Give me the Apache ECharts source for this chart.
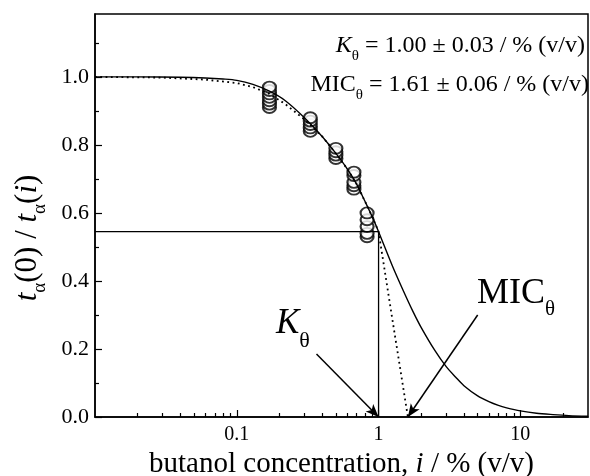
<!DOCTYPE html>
<html>
<head>
<meta charset="utf-8">
<script src="https://cdn.jsdelivr.net/npm/echarts@6/dist/echarts.min.js"></script>
<style>
  html, body { margin: 0; padding: 0; background: #fff; }
  #chart { width: 590px; height: 476px; }
</style>
</head>
<body>
<div id="chart"></div>
<script>
// axis ticks
const xMajorTicks = [0.1, 1, 10];
const xMinorTicks = [0.02, 0.03, 0.04, 0.05, 0.06, 0.07, 0.08, 0.09,
  0.2, 0.3, 0.4, 0.5, 0.6, 0.7, 0.8, 0.9, 2, 3, 4, 5, 6, 7, 8, 9, 20];
const yMajorTicks = [0, 0.2, 0.4, 0.6, 0.8, 1.0];
const yMinorTicks = [0.1, 0.3, 0.5, 0.7, 0.9, 1.1];

// measured points, butanol % (v/v) vs t(0)/t(i)
const conc = [0.17, 0.33, 0.5, 0.67, 0.83];
const ratios = [
  [0.91, 0.92, 0.93, 0.94, 0.95, 0.96, 0.97],
  [0.84, 0.85, 0.86, 0.87, 0.88],
  [0.76, 0.77, 0.78, 0.79],
  [0.67, 0.68, 0.69, 0.71, 0.72],
  [0.53, 0.54, 0.56, 0.58, 0.60]
];

// fitted curve (solid)
const fitX = [0.01, 0.02, 0.04, 0.06, 0.08, 0.1, 0.13, 0.17, 0.22, 0.3, 0.4, 0.5, 0.6, 0.7, 0.8, 0.9, 1.0,
  1.25, 1.5, 1.75, 2, 2.5, 3, 3.5, 4, 5, 6, 7, 8, 10, 13, 17, 22, 30];
const fitY = [1.0, 1.0, 0.999, 0.997, 0.994, 0.99, 0.978, 0.958, 0.93, 0.88, 0.825, 0.775, 0.73, 0.685, 0.635, 0.59, 0.545,
  0.445, 0.37, 0.31, 0.263, 0.195, 0.148, 0.117, 0.092, 0.062, 0.045, 0.034, 0.027, 0.018, 0.011, 0.007, 0.004, 0.002];

// second fit (dotted)
const fit2X = [0.01, 0.03, 0.06, 0.1, 0.13, 0.17, 0.22, 0.3, 0.4, 0.5, 0.6, 0.7, 0.8, 0.9, 1.0, 1.27, 1.61];
const fit2Y = [1.0, 0.998, 0.992, 0.982, 0.97, 0.95, 0.92, 0.875, 0.825, 0.775, 0.73, 0.685, 0.635, 0.59, 0.545, 0.27, 0.0];

// K theta guide lines
const kBoxX = [0.01, 1, 1];
const kBoxY = [0.545, 0.545, 0];

// arrows: [tailX, tailY, headX, headY]
const kArrow = [0.365, 0.185, 1.0, 0.0];
const micArrow = [5.0, 0.30, 1.61, 0.0];

const pts = [];
conc.forEach((c, i) => ratios[i].forEach(r => pts.push([c, r])));
const zip = (a, b) => a.map((v, i) => [v, b[i]]);

const font = '"Liberation Serif", "Times New Roman", serif';
const sub = { fontFamily: font, fontSize: 15, fill: '#000', lineHeight: 15, padding: [22, 0, 0, 0] };

var myChart = echarts.init(document.getElementById('chart'));
var option = {
  animation: false,
  grid: { left: 95, right: 2, top: 14, bottom: 59, outerBoundsMode: 'none',
    show: true, borderColor: '#000', borderWidth: 1.5 },
  xAxis: [
    {
      type: 'log', min: 0.01, max: 30, logBase: 10,
      name: '{n|butanol concentration, }{i|i}{n| / % (v/v)}',
      nameLocation: 'middle', nameGap: 24,
      nameTextStyle: {
        rich: {
          n: { fontFamily: font, fontSize: 29, color: '#000' },
          i: { fontFamily: font, fontSize: 29, fontStyle: 'italic', color: '#000' }
        }
      },
      axisLine: { lineStyle: { color: '#000', width: 1.5 } },
      axisTick: { inside: true, length: 7, customValues: xMajorTicks, lineStyle: { color: '#000', width: 1.2 } },
      axisLabel: { customValues: xMajorTicks, margin: 8, color: '#000', fontFamily: font, fontSize: 20,
        formatter: v => String(v) },
      splitLine: { show: false }
    },
    {
      type: 'log', min: 0.01, max: 30, logBase: 10, position: 'bottom',
      axisLine: { show: false },
      axisTick: { inside: true, length: 4, customValues: xMinorTicks, lineStyle: { color: '#000', width: 1.2 } },
      axisLabel: { show: false },
      splitLine: { show: false }
    }
  ],
  yAxis: [
    {
      type: 'value', min: 0, max: 1.185,
      axisLine: { lineStyle: { color: '#000', width: 1.5 } },
      axisTick: { inside: true, length: 7, customValues: yMajorTicks, lineStyle: { color: '#000', width: 1.2 } },
      axisLabel: { customValues: yMajorTicks, margin: 6, color: '#000', fontFamily: font, fontSize: 22,
        formatter: v => v.toFixed(1) },
      splitLine: { show: false }
    },
    {
      type: 'value', min: 0, max: 1.185, position: 'left',
      axisLine: { show: false },
      axisTick: { inside: true, length: 4, customValues: yMinorTicks, lineStyle: { color: '#000', width: 1.2 } },
      axisLabel: { show: false },
      splitLine: { show: false }
    }
  ],
  series: [
    {
      type: 'line', data: zip(kBoxX, kBoxY), symbol: 'none',
      lineStyle: { color: '#000', width: 1.3 },
      markLine: {
        silent: true, symbol: ['none', 'arrow'], symbolSize: [8, 13],
        label: { show: false },
        lineStyle: { color: '#000', width: 1.5, type: 'solid' },
        data: [
          [{ coord: [kArrow[0], kArrow[1]] }, { coord: [kArrow[2], kArrow[3]] }],
          [{ coord: [micArrow[0], micArrow[1]] }, { coord: [micArrow[2], micArrow[3]] }]
        ]
      }
    },
    {
      type: 'line', data: zip(fit2X, fit2Y), symbol: 'none',
      lineStyle: { color: '#000', width: 1.8, type: [1.8, 3.5] }
    },
    {
      type: 'line', data: zip(fitX, fitY), symbol: 'none', smooth: 0.3,
      lineStyle: { color: '#000', width: 1.4 }
    },
    {
      type: 'scatter', data: pts, symbol: 'emptyCircle', symbolSize: [13, 11],
      itemStyle: { color: '#000', borderColor: '#000', borderWidth: 2.5 }
    }
  ],
  graphic: [
    {
      type: 'text', x: 28, y: 238, rotation: Math.PI / 2,
      style: {
        text: '{t|t}{s|α}{n|(0) / }{t|t}{s|α}{n|(}{t|i}{n|)}',
        align: 'center', verticalAlign: 'middle',
        rich: {
          n: { fontFamily: font, fontSize: 31, fill: '#000', lineHeight: 34 },
          t: { fontFamily: font, fontSize: 31, fontStyle: 'italic', fill: '#000', lineHeight: 34 },
          s: { fontFamily: font, fontSize: 19, fill: '#000', lineHeight: 19, padding: [24, 0, 0, 0] }
        }
      }
    },
    {
      type: 'text', right: 5, top: 27,
      style: {
        text: '{k|K}{s|θ}{n| = 1.00 ± 0.03 / % (v/v)}',
        rich: {
          k: { fontFamily: font, fontSize: 24, fontStyle: 'italic', fill: '#000', lineHeight: 28 },
          n: { fontFamily: font, fontSize: 24, fill: '#000', lineHeight: 28 },
          s: sub
        }
      }
    },
    {
      type: 'text', right: 1, top: 66,
      style: {
        text: '{n|MIC}{s|θ}{n| = 1.61 ± 0.06 / % (v/v)}',
        rich: {
          n: { fontFamily: font, fontSize: 24, fill: '#000', lineHeight: 28 },
          s: sub
        }
      }
    },
    {
      type: 'text', left: 276, top: 296,
      style: {
        text: '{k|K}{s|θ}',
        rich: {
          k: { fontFamily: font, fontSize: 35, fontStyle: 'italic', fill: '#000', lineHeight: 40 },
          s: { fontFamily: font, fontSize: 22, fill: '#000', lineHeight: 22, padding: [34, 0, 0, 0] }
        }
      }
    },
    {
      type: 'text', left: 477, top: 267,
      style: {
        text: '{n|MIC}{s|θ}',
        rich: {
          n: { fontFamily: font, fontSize: 36, fill: '#000', lineHeight: 40 },
          s: { fontFamily: font, fontSize: 21, fill: '#000', lineHeight: 21, padding: [32, 0, 0, 0] }
        }
      }
    }
  ]
};
myChart.setOption(option);
</script>
</body>
</html>
